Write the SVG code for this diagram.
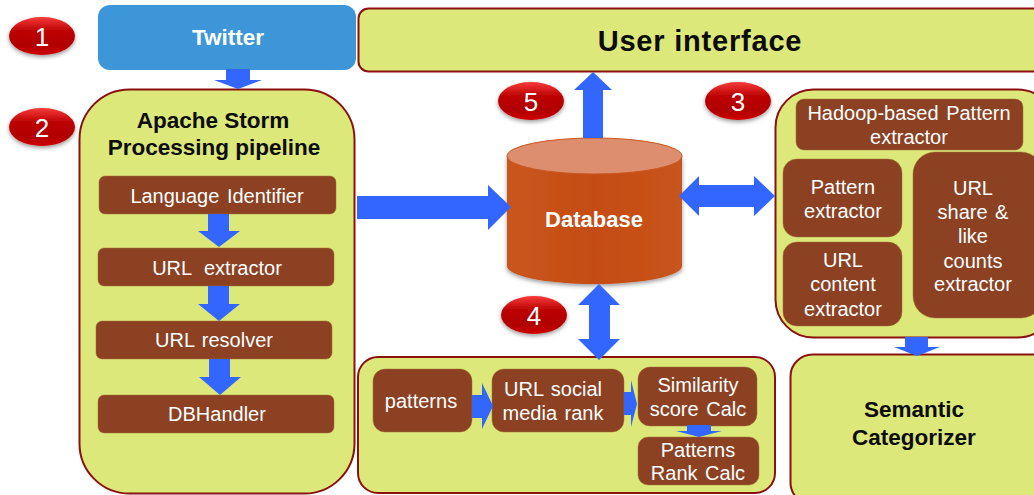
<svg xmlns="http://www.w3.org/2000/svg" width="1034" height="495" viewBox="0 0 1034 495">
<style>
text{font-family:"Liberation Sans",Arial,sans-serif;text-anchor:middle}
.panel{fill:#DCE87A;stroke:#8B1010;stroke-width:2}
.box{fill:#8B4122;stroke:#A5703C;stroke-width:.5}
.lbl{fill:#fff;font-size:20px;word-spacing:2px}
.h{fill:#0c0c0c;font-weight:bold;font-size:22.5px}
.w{fill:#fff;font-weight:bold}
.arrow{fill:#3366FF}
.badge{fill:url(#red);filter:url(#sh)}
.num{fill:#fff;font-size:26px}
</style>
<defs>
<linearGradient id="red" x1="0" y1="0" x2="0" y2="1"><stop offset="0" stop-color="#F83A3A"/><stop offset=".35" stop-color="#BE0606"/><stop offset=".75" stop-color="#B00000"/><stop offset="1" stop-color="#D00000"/></linearGradient>
<linearGradient id="db" x1="0" y1="0" x2="1" y2="0"><stop offset="0" stop-color="#C9561E"/><stop offset=".5" stop-color="#C54C14"/><stop offset="1" stop-color="#C8541C"/></linearGradient>
<filter id="sh" x="-20%" y="-20%" width="140%" height="150%"><feDropShadow dx="0" dy="2" stdDeviation="2" flood-color="#000" flood-opacity=".4"/></filter>
</defs>
<g id="badge1"><ellipse class="badge" cx="42" cy="36" rx="33" ry="19"/><text class="num" x="42" y="46">1</text></g>
<g id="badge2"><ellipse class="badge" cx="42" cy="127" rx="33" ry="19"/><text class="num" x="42" y="137">2</text></g>
<g id="badge3"><ellipse class="badge" cx="738" cy="101" rx="33" ry="19"/><text class="num" x="738" y="111">3</text></g>
<g id="badge4"><ellipse class="badge" cx="534" cy="315" rx="33" ry="19"/><text class="num" x="534" y="325">4</text></g>
<g id="badge5"><ellipse class="badge" cx="531" cy="101" rx="33" ry="19"/><text class="num" x="531" y="111">5</text></g>
<g id="twitter"><rect x="98" y="5" width="258" height="65" rx="12" fill="#3C96D8"/><text class="w" x="228" y="45" font-size="22.500">Twitter</text></g>
<g id="ui"><rect class="panel" x="358.500" y="8.500" width="690" height="63" rx="10"/><text x="700" y="51" font-size="29" font-weight="bold" fill="#0c0c0c" style="letter-spacing:.8px">User interface</text></g>
<g id="storm">
<rect class="panel" x="79.500" y="89.500" width="275" height="404" rx="50"/>
<text class="h" x="213" y="128">Apache Storm</text>
<text class="h" x="214" y="155">Processing pipeline</text>
</g>
<g id="lang"><rect class="box" x="99" y="176" width="237" height="38" rx="6"/><text class="lbl" x="217" y="203">Language Identifier</text></g>
<g id="urlext"><rect class="box" x="98" y="248" width="236" height="38" rx="6"/><text class="lbl" x="217" y="275" style="word-spacing:7px">URL extractor</text></g>
<g id="resolver"><rect class="box" x="96" y="321" width="236" height="38" rx="6"/><text class="lbl" x="214" y="347">URL resolver</text></g>
<g id="dbh"><rect class="box" x="98" y="395" width="236" height="38" rx="6"/><text class="lbl" x="217" y="421">DBHandler</text></g>
<g id="database">
<path d="M507 156V266C507 276 546 284 594.500 284S682 276 682 266V156Z" fill="url(#db)" filter="url(#sh)"/>
<ellipse cx="594.500" cy="156" rx="87.500" ry="18" fill="#DC8E6E" stroke="#C9561E"/>
<text class="w" x="594" y="227" font-size="22">Database</text>
</g>
<g id="rightpanel"><rect class="panel" x="775.500" y="89.500" width="280" height="248" rx="38"/></g>
<g id="hadoop"><rect class="box" x="796" y="99" width="227" height="51" rx="8"/><text class="lbl" x="909" y="120">Hadoop-based Pattern</text><text class="lbl" x="909" y="144">extractor</text></g>
<g id="pattern"><rect class="box" x="783" y="159" width="119" height="78" rx="14"/><text class="lbl" x="843" y="194">Pattern</text><text class="lbl" x="843" y="218">extractor</text></g>
<g id="content"><rect class="box" x="783" y="242" width="119" height="84" rx="14"/><text class="lbl" x="843" y="267">URL</text><text class="lbl" x="843" y="291">content</text><text class="lbl" x="843" y="316">extractor</text></g>
<g id="share"><rect class="box" x="913" y="152" width="130" height="166" rx="22"/><text class="lbl" x="973" y="195">URL</text><text class="lbl" x="973" y="219">share &amp;</text><text class="lbl" x="973" y="243">like</text><text class="lbl" x="973" y="268">counts</text><text class="lbl" x="973" y="291">extractor</text></g>
<g id="semantic"><rect class="panel" x="790.500" y="354.500" width="270" height="150" rx="22"/><text class="h" x="914" y="417">Semantic</text><text class="h" x="914" y="445">Categorizer</text></g>
<g id="bottompanel"><rect class="panel" x="358" y="357" width="417" height="136" rx="20"/></g>
<g id="patterns"><rect class="box" x="373" y="369" width="99" height="63" rx="12"/><text class="lbl" x="421" y="408">patterns</text></g>
<g id="social"><rect class="box" x="492" y="369" width="132" height="63" rx="12"/><text class="lbl" x="553" y="396">URL social</text><text class="lbl" x="553" y="420">media rank</text></g>
<g id="similarity"><rect class="box" x="638" y="367" width="119" height="59" rx="12"/><text class="lbl" x="698" y="392">Similarity</text><text class="lbl" x="698" y="416">score Calc</text></g>
<g id="rank"><rect class="box" x="638" y="437" width="121" height="48" rx="10"/><text class="lbl" x="698" y="457">Patterns</text><text class="lbl" x="698" y="480">Rank Calc</text></g>
<g id="connectors">
<path class="arrow" d="M226 69H250V80H262L238 89L214 80H226Z"/>
<path class="arrow" d="M208 214H229V231H240L219 247L198 231H208Z"/>
<path class="arrow" d="M208 286H229V304H240L219 321L198 304H208Z"/>
<path class="arrow" d="M209 359H230V377H241L220 395L199 377H209Z"/>
<path class="arrow" d="M357 196H488V185L511 207L488 230V219H357Z"/>
<path class="arrow" d="M583 138V90H574L593 72L612 90H603V138Z"/>
<path class="arrow" d="M679 196L699 176V185H754V176L775 196L754 216V207H699V216Z"/>
<path class="arrow" d="M599 284L620 305H610V339H620L599 360L578 339H589V305H578Z"/>
<path class="arrow" d="M472 395H482V383L493 406L482 429V418H472Z"/>
<path class="arrow" d="M624 392H631V380L637 404L631 427V415H624Z"/>
<path class="arrow" d="M687 425H711V431H722L699 437L676 431H687Z"/>
<path class="arrow" d="M905 337H928V347H940L917 356L894 347H905Z"/>
</g>
</svg>
